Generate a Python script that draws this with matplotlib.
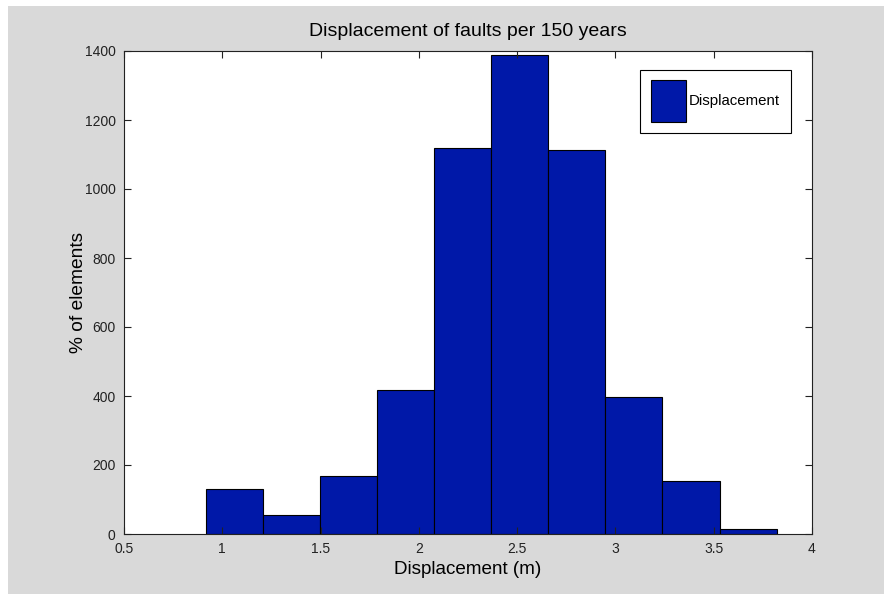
import numpy as np
import matplotlib
matplotlib.use('Agg')
import matplotlib.pyplot as plt
from matplotlib.patches import Rectangle

# histogram data
bin_lo = 0.917
bin_hi = 3.82
counts = [130, 55, 168, 418, 1118, 1388, 1113, 398, 153, 14]
xticks = [0.5, 1, 1.5, 2, 2.5, 3, 3.5, 4]
xticklabels = ['0.5', '1', '1.5', '2', '2.5', '3', '3.5', '4']
yticks = [0, 200, 400, 600, 800, 1000, 1200, 1400]

plt.rcParams['font.family'] = ['Liberation Sans', 'DejaVu Sans']

fig = plt.figure(figsize=(8.84, 5.94), dpi=100, facecolor='white')
# grey figure area, with a thin white strip at top and left
fig.patches.append(Rectangle((8/884, 0), 1, 1 - 6/594, transform=fig.transFigure,
                             facecolor='#d9d9d9', edgecolor='none', zorder=-1))

ax = fig.add_axes([124/884, 60/594, 688/884, 483/594])
ax.set_facecolor('white')

edges = np.linspace(bin_lo, bin_hi, len(counts) + 1)
width = edges[1] - edges[0]
ax.bar(edges[:-1], counts, width=width, align='edge', color='#0018a8',
       edgecolor='black', linewidth=0.8, label='Displacement')

ax.set_xlim(0.5, 4)
ax.set_ylim(0, 1400)
ax.set_xticks(xticks)
ax.set_xticklabels(xticklabels)
ax.set_yticks(yticks)
ax.tick_params(direction='in', length=5, width=0.8, labelsize=10, colors='#222222',
               top=True, right=True, pad=6)
for s in ax.spines.values():
    s.set_linewidth(0.8)
    s.set_color('#222222')

ax.set_title('Displacement of faults per 150 years', fontsize=14, pad=11)
ax.set_xlabel('Displacement (m)', fontsize=13.6, labelpad=3)
ax.set_ylabel('% of elements', fontsize=13.8, labelpad=0)
ax.yaxis.set_label_coords(-0.054, 0.5)

leg = ax.legend(loc='upper right', bbox_to_anchor=(0.969, 0.961), fontsize=10.8,
                handlelength=2.35, handleheight=3.9, handletextpad=0.2,
                borderpad=0.7, borderaxespad=0, fancybox=False, framealpha=1,
                edgecolor='black')
leg.get_frame().set_linewidth(0.8)

fig.savefig('out.png', dpi=100, facecolor=fig.get_facecolor())
